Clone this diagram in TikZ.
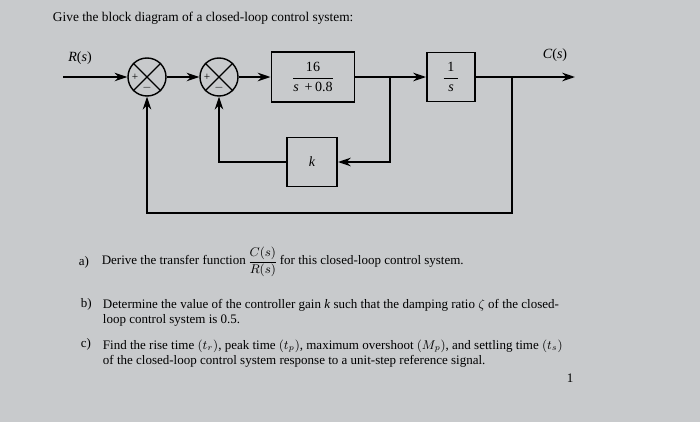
\documentclass[tikz,border=0pt]{standalone}
\usepackage{amsmath}
\usepackage{fontspec}
\setmainfont{Liberation Serif}
\usetikzlibrary{arrows.meta,positioning}

\definecolor{pagegray}{RGB}{200,202,204}

\tikzset{
    sig/.style={line width=2pt,-{Stealth[length=9pt,width=6pt]}},
    block/.style={draw,line width=1.4pt},
    summer/.style={draw,circle,line width=1pt,minimum size=0.95cm,inner sep=0pt},
    question/.style={anchor=west,align=left,font=\fontsize{9.25}{10.8}\selectfont},
}

\begin{document}
\begin{tikzpicture}
    % Page
    \fill[pagegray] (0,0) rectangle (17.5,10.55);
    \useasboundingbox (0,0) rectangle (17.5,10.55);
    \node[anchor=west,font=\fontsize{9.5}{11}\selectfont] (title) at (1.2,10.1) {Give the block diagram of a closed-loop control system:};
    
    % Summing junctions
    \node[summer] (s1) at (3.675,8.625) {};
    \node[summer] (s2) at (5.475,8.625) {};
    \foreach \s in {s1,s2} {
        \draw[line width=0.8pt] (\s.45) -- (\s.225);
        \draw[line width=0.8pt] (\s.135) -- (\s.315);
        \node[font=\footnotesize,inner sep=0pt] (\s plus) at ([xshift=-0.3cm]\s.center) {+};
        \node[font=\footnotesize,inner sep=0pt] (\s minus) at ([yshift=-0.27cm]\s.center) {$-$};
    }
    
    % Blocks
    \node[block,minimum width=2.075cm,minimum height=1.25cm] (G) at (7.825,8.625) {$\dfrac{\text{16}}{\text{\textit{s} \,+\,0.8}}$};
    \node[block,minimum width=1.2cm,minimum height=1.225cm] (I) at (11.275,8.625) {$\dfrac{\;\text{1}\;}{\textit{s}}$};
    \node[block,minimum width=1.25cm,minimum height=1.225cm] (k) at (7.8,6.5) {\textit{k}};
    
    % Signals
    \node (R) at (2.0,9.1) {\textit{R}(\textit{s})};
    \node (C) at (13.875,9.175) {\textit{C}(\textit{s})};
    \coordinate (in) at (1.575,8.625);
    \coordinate (b1) at (9.75,8.625);
    \coordinate (b2) at (12.8,8.625);
    \coordinate (out) at (14.375,8.625);
    \coordinate (fb) at (12.8,5.225);
    
    \draw[sig] (in) -- (s1);
    \draw[sig] (s1) -- (s2);
    \draw[sig] (s2) -- (G);
    \draw[sig] (G) -- (I);
    \draw[sig] (I) -- (out);
    
    % Feedback paths
    \draw[sig] (b1) |- (k.east);
    \draw[sig] (k.west) -| (s2.south);
    \draw[sig] (b2) -- (fb) -| (s1.south);
    
    % Questions
    \node[question] (la) at (1.85,4.0) {a)};
    \node[question] (qa) at (2.42,4.0) {Derive the transfer function\,$\dfrac{C(s)}{R(s)}$\,for this closed-loop control system.};
    \node[question] (lb) at (1.9,2.95) {b)};
    \node[question,anchor=north west] (qb) at (2.45,3.2) {Determine the value of the controller gain \textit{k} such that the damping ratio $\zeta$ of the closed-\\loop control system is 0.5.};
    \node[question] (lc) at (1.9,1.93) {c)};
    \node[question,anchor=north west] (qc) at (2.45,2.175) {Find the rise time $(t_r)$, peak time $(t_p)$, maximum overshoot $(M_p)$, and settling time $(t_s)$\\of the closed-loop control system response to a unit-step reference signal.};
    \node[question] (page) at (14.05,1.1) {1};
\end{tikzpicture}
\end{document}
